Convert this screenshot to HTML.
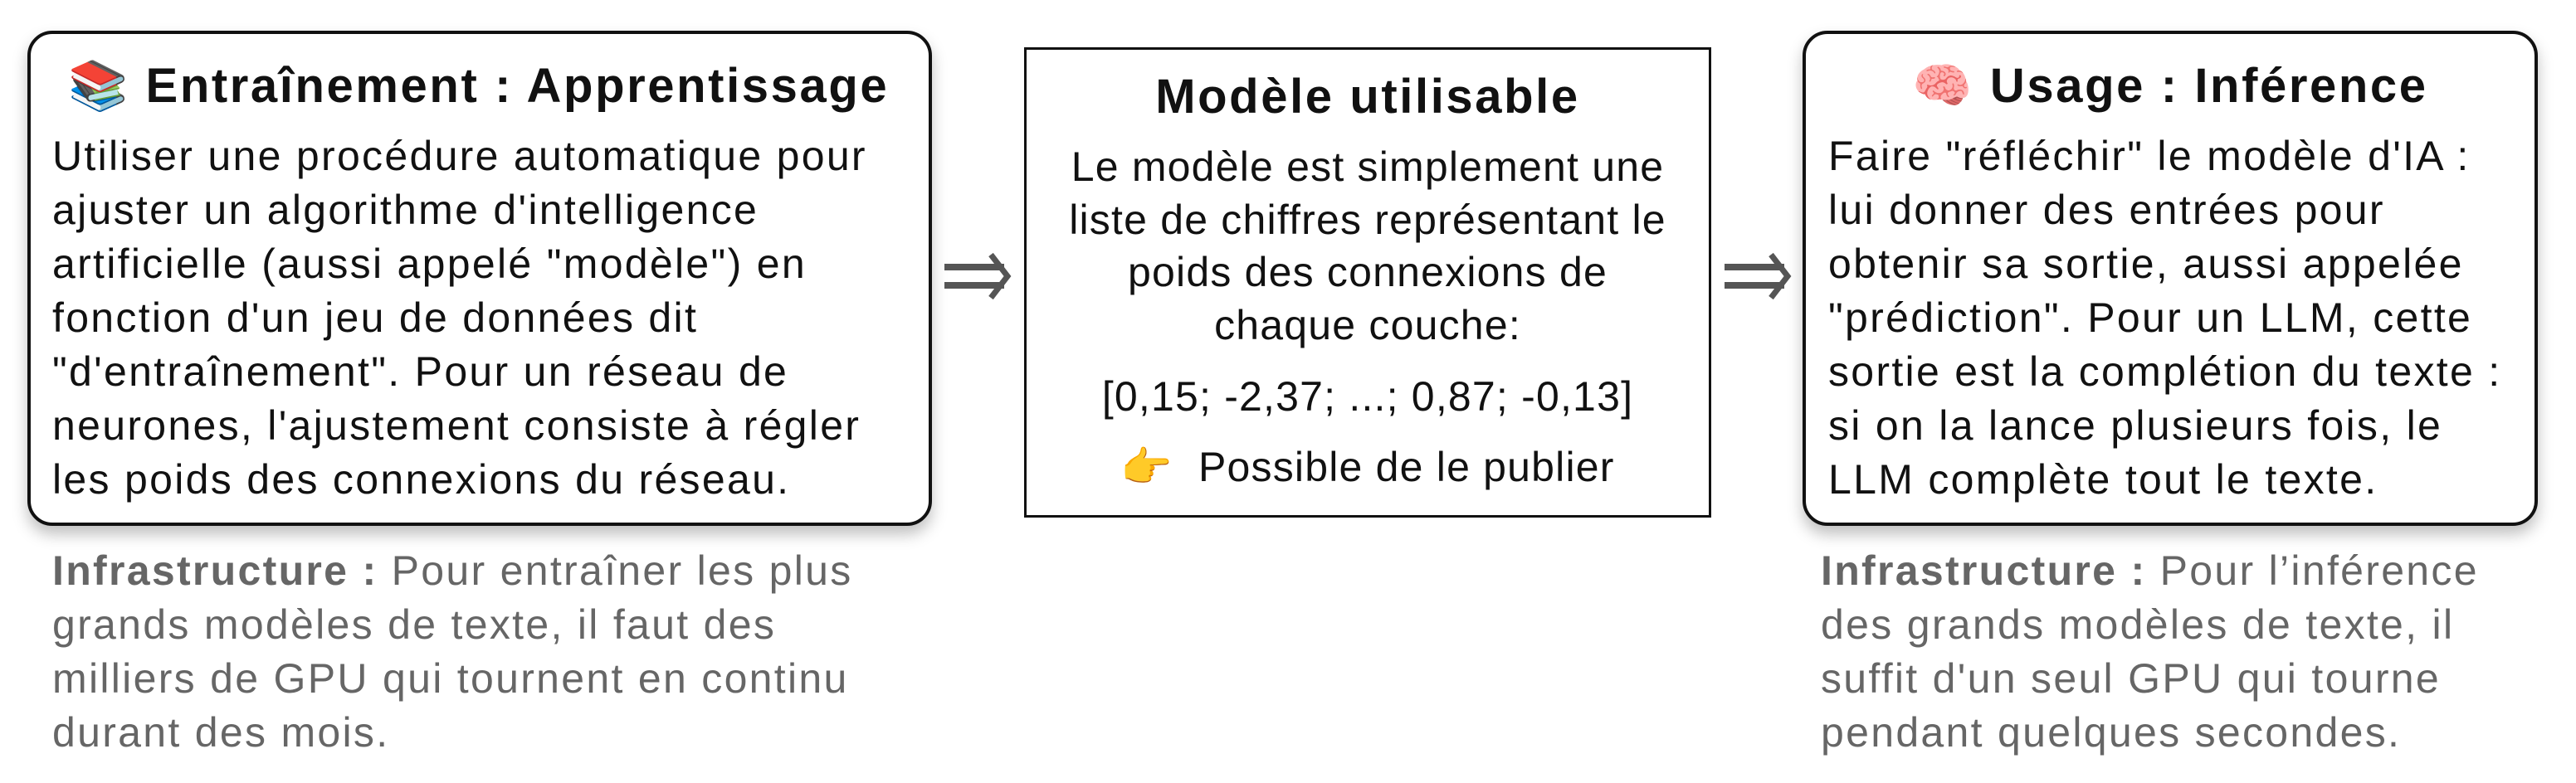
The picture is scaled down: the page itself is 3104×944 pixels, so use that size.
<!DOCTYPE html>
<html><head><meta charset="utf-8"><style>
html,body{margin:0;padding:0;background:#fff;}
body{width:3104px;height:944px;position:relative;overflow:hidden;font-family:"Liberation Sans","DejaVu Sans",sans-serif;color:#111;}
.box{position:absolute;box-sizing:border-box;border:4px solid #111;background:#fff;}
.r{border-radius:30px;box-shadow:0 10px 18px rgba(0,0,0,0.25);}
.t{position:absolute;white-space:nowrap;font-size:50px;line-height:65px;letter-spacing:2.3px;}
.h{font-weight:bold;font-size:58px;line-height:64px;letter-spacing:2.6px;}
.c{text-align:center;}
.g{color:#666;}
</style></head><body>
<div class="box r" style="left:33px;top:37px;width:1090px;height:597px;"></div>
<div class="t h" style="left:82px;top:72px;">📚 Entraînement : Apprentissage</div>
<div class="t" style="left:63px;top:156px;">Utiliser une procédure automatique pour<br>ajuster un algorithme d'intelligence<br>artificielle (aussi appelé "modèle") en<br>fonction d'un jeu de données dit<br>"d'entraînement". Pour un réseau de<br>neurones, l'ajustement consiste à régler<br>les poids des connexions du réseau.</div>
<div class="t g" style="left:63px;top:656px;"><b>Infrastructure :</b> Pour entraîner les plus<br>grands modèles de texte, il faut des<br>milliers de GPU qui tournent en continu<br>durant des mois.</div>

<svg style="position:absolute;left:0;top:0" width="3104" height="944">
<g stroke="#555" fill="none" stroke-width="8">
<line x1="1138" y1="322" x2="1210" y2="322"/><line x1="1138" y1="344" x2="1210" y2="344"/>
<polyline points="1194,307 1214,333 1194,359" stroke-width="7"/>
<line x1="2078" y1="322" x2="2150" y2="322"/><line x1="2078" y1="344" x2="2150" y2="344"/>
<polyline points="2134,307 2154,333 2134,359" stroke-width="7"/>
</g></svg>

<div class="box" style="left:1234px;top:57px;width:828px;height:567px;border-width:3px;"></div>
<div class="t h c" style="left:1234px;width:828px;top:85px;">Modèle utilisable</div>
<div class="t c" style="left:1234px;width:828px;top:170px;line-height:63.5px;letter-spacing:1.2px;">Le modèle est simplement une<br>liste de chiffres représentant le<br>poids des connexions de<br>chaque couche:</div>
<div class="t c" style="left:1234px;width:828px;top:446px;letter-spacing:1.2px;">[0,15; -2,37; ...; 0,87; -0,13]</div>
<div class="t c" style="left:1234px;width:828px;top:531px;letter-spacing:1.2px;">👉&nbsp; Possible de le publier</div>

<div class="box r" style="left:2172px;top:37px;width:886px;height:597px;"></div>
<div class="t h c" style="left:2172px;width:886px;top:72px;">🧠 Usage : Inférence</div>
<div class="t" style="left:2203px;top:156px;">Faire "réfléchir" le modèle d'IA :<br>lui donner des entrées pour<br>obtenir sa sortie, aussi appelée<br>"prédiction". Pour un LLM, cette<br>sortie est la complétion du texte :<br>si on la lance plusieurs fois, le<br>LLM complète tout le texte.</div>
<div class="t g" style="left:2194px;top:656px;"><b>Infrastructure :</b> Pour l’inférence<br>des grands modèles de texte, il<br>suffit d'un seul GPU qui tourne<br>pendant quelques secondes.</div>
</body></html>
